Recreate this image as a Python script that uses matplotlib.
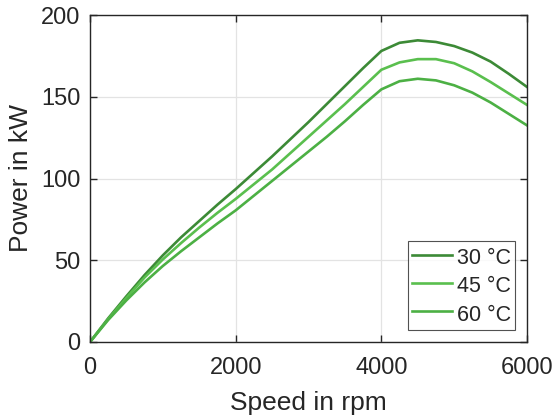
import matplotlib
matplotlib.use("Agg")
import matplotlib.pyplot as plt

speed = [0, 250, 500, 750, 1000, 1250, 1500, 1750, 2000, 2250, 2500, 2750,
         3000, 3250, 3500, 3750, 4000, 4250, 4500, 4750, 5000, 5250, 5500,
         5750, 6000]
p30 = [0, 14.5, 28, 41, 53, 64, 74, 84, 93.5, 103.5, 113.5, 124,
       134.5, 145.5, 156.5, 167.5, 178, 183, 184.5, 183.5, 181, 177, 171.5,
       164, 156]
p45 = [0, 14, 27, 39.5, 50.5, 60.5, 70, 79, 87.5, 96.5, 105.5, 115.5,
       125.5, 135.5, 145.5, 156, 166.5, 171, 173, 173, 170.5, 165.5, 159,
       152, 145]
p60 = [0, 13.5, 25.5, 36.5, 46.5, 55.5, 64, 72.5, 80.5, 89.5, 98.5, 107.5,
       116.5, 125.5, 135, 145, 154.5, 159.5, 161, 160, 157, 152.5, 146.5,
       139.5, 132.5]
labels = ["30 °C", "45 °C", "60 °C"]
colors = ["#3c8a36", "#5abf4e", "#4cb044"]
xticks = [0, 2000, 4000, 6000]
yticks = [0, 50, 100, 150, 200]

plt.rcParams['font.family'] = ['Liberation Sans', 'DejaVu Sans']
fig = plt.figure(figsize=(5.55, 4.18), dpi=100)
ax = fig.add_axes([90/555, 1-342/418, 437/555, 327/418])

for y, lab, c in zip([p30, p45, p60], labels, colors):
    ax.plot(speed, y, color=c, lw=1.9, label=lab)

ax.set_xlim(0, 6000)
ax.set_ylim(0, 200)
ax.set_xticks(xticks)
ax.set_yticks(yticks)
ax.grid(True, color='#e3e3e3', lw=0.9)
ax.set_axisbelow(True)
ax.tick_params(direction='in', length=5, width=1, colors='#262626',
               labelsize=17, top=True, right=True)
ax.tick_params(axis='x', pad=11)
ax.tick_params(axis='y', pad=7)
for s in ax.spines.values():
    s.set_color('#262626')
    s.set_linewidth(1)
ax.set_xlabel("Speed in rpm", fontsize=19, color='#262626', labelpad=8.5)
ax.set_ylabel("Power in kW", fontsize=19, color='#262626', labelpad=6)

leg = ax.legend(loc='lower right', bbox_to_anchor=(0.9725, 0.037),
                fontsize=15.5, frameon=True, fancybox=False,
                handlelength=1.86, handleheight=1.3,
                borderpad=0.2, labelspacing=0.2, handletextpad=0.2,
                borderaxespad=0)
leg.get_frame().set_edgecolor('#262626')
leg.get_frame().set_linewidth(0.8)
for t in leg.get_texts():
    t.set_color('#262626')

fig.savefig("out.png", dpi=100)
